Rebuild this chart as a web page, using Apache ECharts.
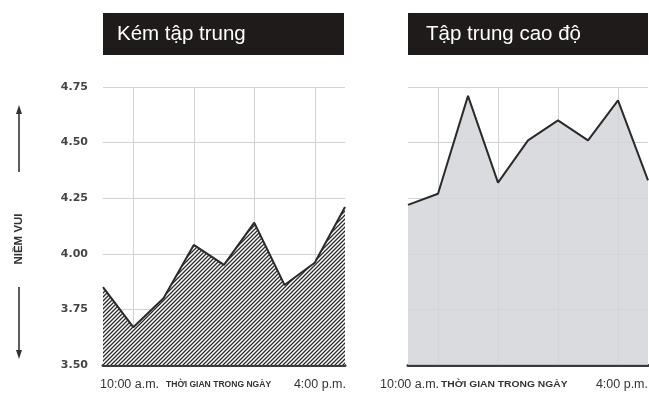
<!DOCTYPE html>
<html><head><meta charset="utf-8">
<script src="https://cdn.jsdelivr.net/npm/echarts@6/dist/echarts.min.js"></script>
<style>html,body{margin:0;padding:0;background:#fff}#c{width:649px;height:400px}</style>
</head><body><div id="c"></div>
<script>
const categories = ['10:00','10:45','11:30','12:15','13:00','13:45','14:30','15:15','16:00'];
const lowFocus = [3.85, 3.67, 3.80, 4.04, 3.95, 4.14, 3.86, 3.96, 4.21];
const highFocus = [4.22, 4.27, 4.71, 4.32, 4.51, 4.60, 4.51, 4.69, 4.33];
const panelTitles = ['Kém tập trung', 'Tập trung cao độ'];
const yName = 'NIỀM VUI';
const xStartLabel = '10:00 a.m.';
const xEndLabel = '4:00 p.m.';
const xName = 'THỜI GIAN TRONG NGÀY';
const yMin = 3.5, yMax = 4.75, yStep = 0.25;

// hatch pattern
const pc = document.createElement('canvas');
pc.width = 4; pc.height = 4;
const g = pc.getContext('2d');
g.fillStyle = '#fff'; g.fillRect(0,0,4,4);
g.strokeStyle = '#2e2e2e'; g.lineWidth = 1.3;
g.beginPath();
g.moveTo(-1,5); g.lineTo(5,-1);
g.moveTo(-1,1); g.lineTo(1,-1);
g.moveTo(3,5); g.lineTo(5,3);
g.stroke();

const chart = echarts.init(document.getElementById('c'));
const font = 'Liberation Sans, Arial, sans-serif';
function xAx(i){
  return {
    type:'category', gridIndex:i, data:categories, boundaryGap:false,
    axisLine:{show:true, lineStyle:{color:'#3a3a3a', width:3}},
    axisTick:{show:false}, axisLabel:{show:false},
    splitLine:{show:true, interval:(idx)=>idx%2===1, lineStyle:{color:'#d2d2d2', width:1}}
  };
}
function yAx(i, showLabels){
  return {
    type:'value', gridIndex:i, min:yMin, max:yMax, interval:yStep,
    axisLine:{show:false}, axisTick:{show:false},
    axisLabel:{show:showLabels, formatter:v=>v.toFixed(2), color:'#444', fontSize:11, fontWeight:'bold', fontFamily:'DejaVu Sans, sans-serif', margin:15},
    splitLine:{show:true, lineStyle:{color:'#d2d2d2', width:1}}
  };
}
const tStyle = {fill:'#333', fontSize:12.5, fontFamily:font, verticalAlign:'middle'};
const sStyle = {fill:'#333', fontSize:8.3, fontWeight:'bold', fontFamily:font, verticalAlign:'middle'};
function xLabels(x0, xm, x1, y, sx){
  return [
    {type:'text', x:x0, y:y, style:Object.assign({text:xStartLabel, align:'left'}, tStyle)},
    {type:'text', x:xm, y:y, scaleX:sx, style:Object.assign({text:xName, align:'left'}, sStyle)},
    {type:'text', x:x1, y:y, style:Object.assign({text:xEndLabel, align:'right'}, tStyle)}
  ];
}
chart.setOption({
  animation:false,
  grid:[
    {left:103, top:87, width:242, bottom:35},
    {left:408, top:87, width:240, bottom:35}
  ],
  xAxis:[xAx(0), xAx(1)],
  yAxis:[yAx(0,true), yAx(1,false)],
  series:[
    {type:'line', xAxisIndex:0, yAxisIndex:0, data:lowFocus, symbol:'none',
     lineStyle:{color:'#2a2a2a', width:2}, areaStyle:{color:{image:pc, repeat:'repeat'}, opacity:1, origin:'start'}},
    {type:'line', xAxisIndex:1, yAxisIndex:1, data:highFocus, symbol:'none',
     lineStyle:{color:'#2a2a2a', width:2}, areaStyle:{color:'#d4d5d8', opacity:0.85, origin:'start'}}
  ],
  graphic:[
    {type:'rect', shape:{x:103, y:13, width:241, height:42}, style:{fill:'#1f1b1b'}},
    {type:'text', x:117, y:34, style:{text:panelTitles[0], fill:'#fff', fontSize:20.5, fontFamily:font, verticalAlign:'middle'}},
    {type:'rect', shape:{x:408, y:13, width:240, height:42}, style:{fill:'#1f1b1b'}},
    {type:'text', x:426, y:34, style:{text:panelTitles[1], fill:'#fff', fontSize:20.5, fontFamily:font, verticalAlign:'middle'}},
    ...xLabels(100, 166, 346, 385, 1.03),
    ...xLabels(380, 441, 648, 385, 1.24),
    {type:'text', x:19, y:239, rotation:Math.PI/2, style:{text:yName, fill:'#333', fontSize:11.5, fontWeight:'bold', fontFamily:font, align:'center', verticalAlign:'middle'}},
    {type:'line', shape:{x1:19, y1:112, x2:19, y2:172}, style:{stroke:'#333', lineWidth:1.6}},
    {type:'polygon', shape:{points:[[19,105],[16,114],[22,114]]}, style:{fill:'#333'}},
    {type:'line', shape:{x1:19, y1:287, x2:19, y2:351}, style:{stroke:'#333', lineWidth:1.6}},
    {type:'polygon', shape:{points:[[19,359],[16,350],[22,350]]}, style:{fill:'#333'}}
  ]
});
</script></body></html>
